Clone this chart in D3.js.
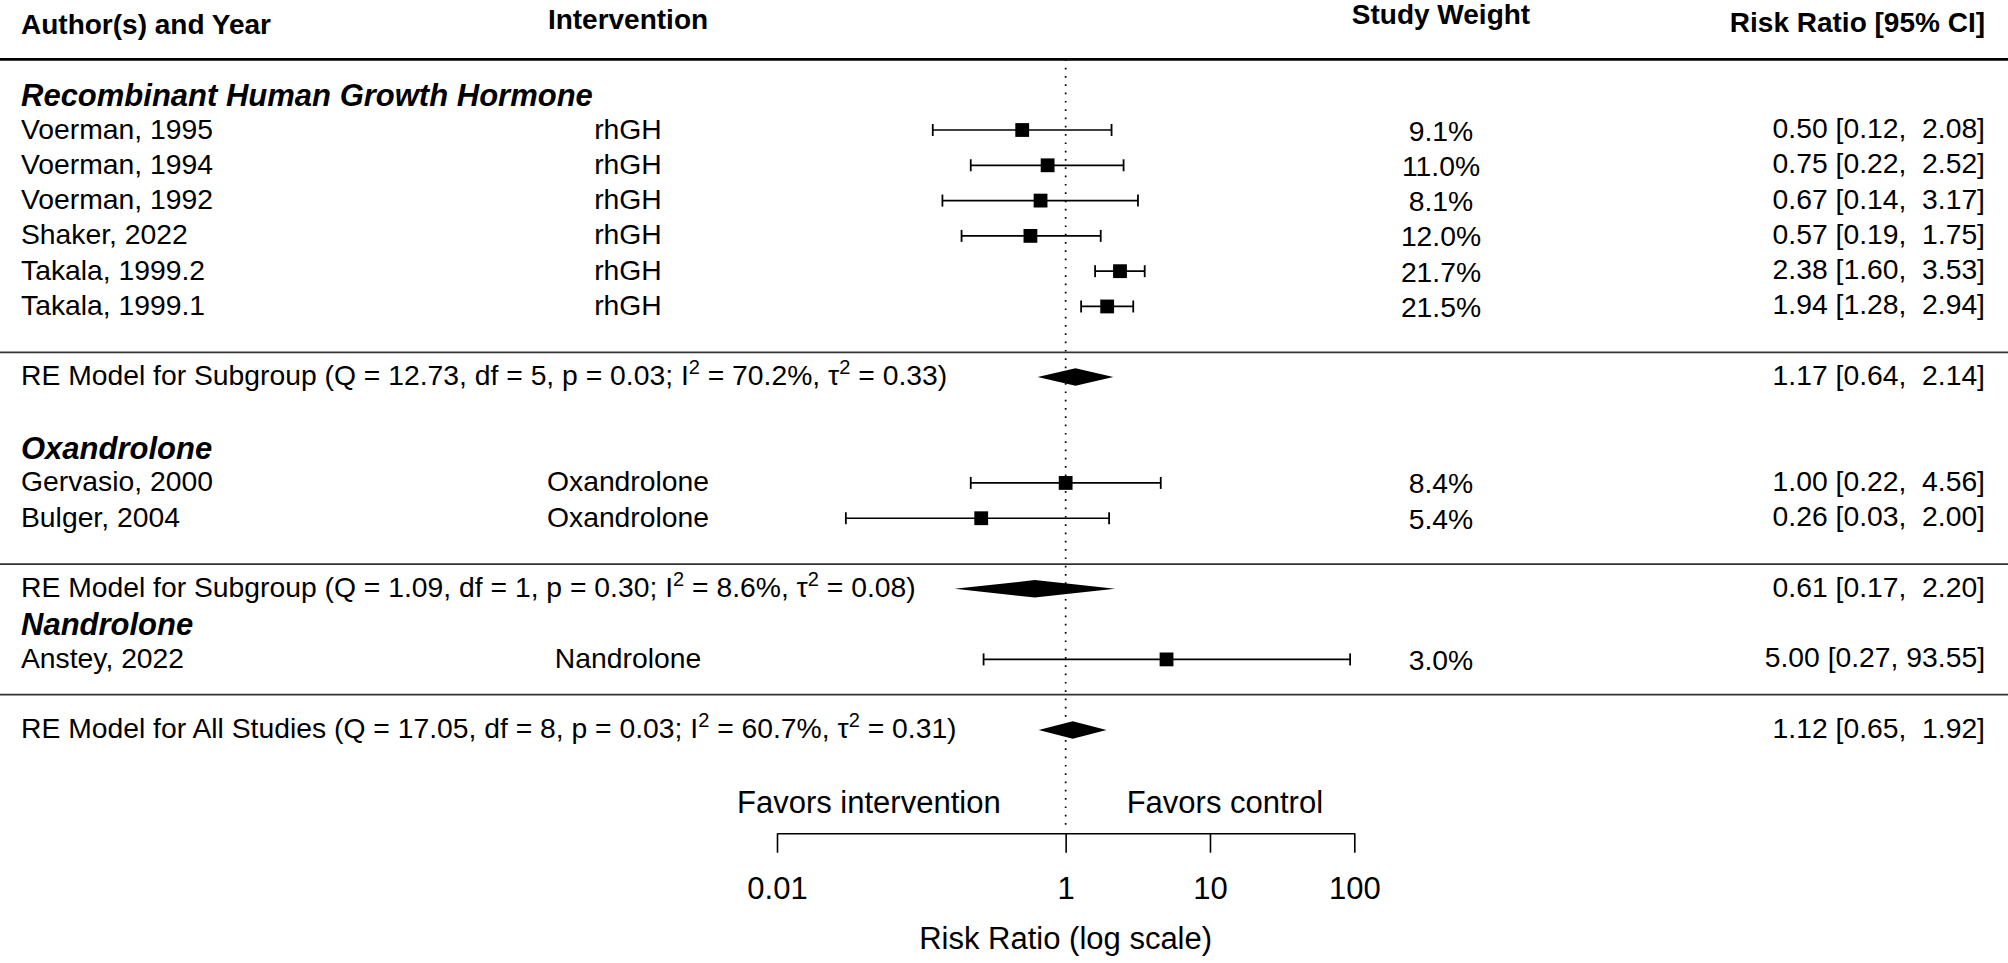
<!DOCTYPE html>
<html>
<head>
<meta charset="utf-8">
<script src="https://cdn.jsdelivr.net/npm/d3@7"></script>
<style>
  body { margin: 0; background: #fff; }
  svg text { font-family: "Liberation Sans", Arial, sans-serif; fill: #000; white-space: pre; }
</style>
</head>
<body>
<div id="chart"></div>
<script>
// study level data
const authors = ['Voerman, 1995', 'Voerman, 1994', 'Voerman, 1992', 'Shaker, 2022', 'Takala, 1999.2',
  'Takala, 1999.1', 'Gervasio, 2000', 'Bulger, 2004', 'Anstey, 2022'];
const interventions = ['rhGH', 'rhGH', 'rhGH', 'rhGH', 'rhGH', 'rhGH', 'Oxandrolone', 'Oxandrolone', 'Nandrolone'];
const weights = [9.1, 11.0, 8.1, 12.0, 21.7, 21.5, 8.4, 5.4, 3.0];
const riskRatio = [0.50, 0.75, 0.67, 0.57, 2.38, 1.94, 1.00, 0.26, 5.00];
const ciLower = [0.12, 0.22, 0.14, 0.19, 1.60, 1.28, 0.22, 0.03, 0.27];
const ciUpper = [2.08, 2.52, 3.17, 1.75, 3.53, 2.94, 4.56, 2.00, 93.55];
const studyGroup = [0, 0, 0, 0, 0, 0, 1, 1, 2];

// subgroup models
const groupNames = ['Recombinant Human Growth Hormone', 'Oxandrolone', 'Nandrolone'];
const groupQ = [12.73, 1.09, null];
const groupDf = [5, 1, null];
const groupP = ['0.03', '0.30', null];
const groupI2 = ['70.2', '8.6', null];
const groupTau2 = ['0.33', '0.08', null];
const groupEst = [1.17, 0.61, null];
const groupLower = [0.64, 0.17, null];
const groupUpper = [2.14, 2.20, null];

// overall model
const overall = { Q: '17.05', df: 8, p: '0.03', I2: '60.7', tau2: '0.31', est: 1.12, lo: 0.65, hi: 1.92 };

const xTicks = [0.01, 1, 10, 100];

const W = 2008, H = 963;
const colAuthor = 21, colInterv = 628, colWeight = 1441, colRR = 1985;
const fs = 28.3;

const svg = d3.select('#chart').append('svg')
  .attr('width', W).attr('height', H);

const x = d3.scaleLog().domain([0.01, 100]).range([777, 1354.3]);
const y = d3.scaleLinear().domain([0, 17]).range([130, 730]);

// ---- row layout ----
const gapAfter = [2, 1, 0];
const rows = [];
let k = -1;
groupNames.forEach((name, g) => {
  rows.push({ type: 'heading', k, text: name });
  const idx = studyGroup.map((s, i) => s === g ? i : -1).filter(i => i >= 0);
  idx.forEach(i => { k += 1; rows.push({ type: 'study', k, i }); });
  if (groupQ[g] != null) {
    rows.push({ type: 'line', k: k + 1.3 });
    k += 2;
    rows.push({ type: 'summary', k, g });
    k += gapAfter[g];
  } else {
    rows.push({ type: 'line', k: k + 1 });
    k += 2;
    rows.push({ type: 'overall', k });
  }
});

const fmt = v => v.toFixed(2);
const ciText = (e, lo, hi) => `${fmt(e)} [${fmt(lo)}, ${fmt(hi).padStart(5, ' ')}]`;

// header
const header = svg.append('g').attr('font-weight', 'bold').attr('font-size', 28);
header.append('text').attr('x', colAuthor).attr('y', 34).text('Author(s) and Year');
header.append('text').attr('x', colInterv).attr('y', 28.5).attr('text-anchor', 'middle').text('Intervention');
header.append('text').attr('x', colWeight).attr('y', 23.5).attr('text-anchor', 'middle').text('Study Weight');
header.append('text').attr('x', colRR).attr('y', 32).attr('text-anchor', 'end').text('Risk Ratio [95% CI]');

svg.append('line')
  .attr('x1', 0).attr('x2', W).attr('y1', y(-2)).attr('y2', y(-2))
  .attr('stroke', '#000').attr('stroke-width', 2.6);

// reference line at RR = 1
svg.append('line')
  .attr('x1', x(1)).attr('x2', x(1)).attr('y1', y(-2)).attr('y2', 825)
  .attr('stroke', '#000').attr('stroke-width', 1.7)
  .attr('stroke-dasharray', '1.7,6.6');

// separator lines
svg.selectAll('.sep').data(rows.filter(r => r.type === 'line')).join('line')
  .attr('class', 'sep')
  .attr('x1', 0).attr('x2', W)
  .attr('y1', d => y(d.k)).attr('y2', d => y(d.k))
  .attr('stroke', '#333').attr('stroke-width', 1.7);

const body = svg.append('g').attr('font-size', fs);

// group headings
body.selectAll('.heading').data(rows.filter(r => r.type === 'heading')).join('text')
  .attr('class', 'heading')
  .attr('x', colAuthor).attr('y', d => y(d.k) + 11)
  .attr('font-size', 31)
  .attr('font-weight', 'bold').attr('font-style', 'italic')
  .text(d => d.text);

// studies
const studyRows = rows.filter(r => r.type === 'study');
const sg = body.selectAll('.study').data(studyRows).join('g').attr('class', 'study');

sg.append('text').attr('x', colAuthor).attr('y', d => y(d.k) + 8.5).text(d => authors[d.i]);
sg.append('text').attr('x', colInterv).attr('y', d => y(d.k) + 8.5).attr('text-anchor', 'middle')
  .text(d => interventions[d.i]);
sg.append('text').attr('x', colWeight).attr('y', d => y(d.k) + 10.5).attr('text-anchor', 'middle')
  .text(d => weights[d.i].toFixed(1) + '%');
sg.append('text').attr('x', colRR).attr('y', d => y(d.k) + 8).attr('text-anchor', 'end')
  .text(d => ciText(riskRatio[d.i], ciLower[d.i], ciUpper[d.i]));

// CI whiskers
sg.append('line')
  .attr('x1', d => x(ciLower[d.i])).attr('x2', d => x(ciUpper[d.i]))
  .attr('y1', d => y(d.k)).attr('y2', d => y(d.k))
  .attr('stroke', '#000').attr('stroke-width', 1.7);
['lo', 'hi'].forEach(end => {
  sg.append('line')
    .attr('x1', d => x(end === 'lo' ? ciLower[d.i] : ciUpper[d.i]))
    .attr('x2', d => x(end === 'lo' ? ciLower[d.i] : ciUpper[d.i]))
    .attr('y1', d => y(d.k) - 6).attr('y2', d => y(d.k) + 6)
    .attr('stroke', '#000').attr('stroke-width', 1.8);
});
const sq = 13.8;
sg.append('rect')
  .attr('x', d => x(riskRatio[d.i]) - sq / 2).attr('y', d => y(d.k) - sq / 2)
  .attr('width', sq).attr('height', sq).attr('fill', '#000');

// summary label with superscripts
function modelLabel(sel, prefix, Q, df, p, I2, tau2) {
  sel.append('tspan').text(`${prefix} (Q = ${Q}, df = ${df}, p = ${p}; I`);
  sel.append('tspan').attr('font-size', 20).attr('dy', -11).text('2');
  sel.append('tspan').attr('dy', 11).text(` = ${I2}%, \u03c4`);
  sel.append('tspan').attr('font-size', 20).attr('dy', -11).text('2');
  sel.append('tspan').attr('dy', 11).text(` = ${tau2})`);
}

function diamond(est, lo, hi, yy) {
  const h = 8.7;
  return `M${x(lo)},${yy}L${x(est)},${yy - h}L${x(hi)},${yy}L${x(est)},${yy + h}Z`;
}

rows.filter(r => r.type === 'summary').forEach(r => {
  const g = r.g, yy = y(r.k);
  const t = body.append('text').attr('x', colAuthor).attr('y', yy + 8);
  modelLabel(t, 'RE Model for Subgroup', groupQ[g].toFixed(2), groupDf[g], groupP[g], groupI2[g], groupTau2[g]);
  body.append('path').attr('d', diamond(groupEst[g], groupLower[g], groupUpper[g], yy)).attr('fill', '#000');
  body.append('text').attr('x', colRR).attr('y', yy + 8).attr('text-anchor', 'end')
    .text(ciText(groupEst[g], groupLower[g], groupUpper[g]));
});

rows.filter(r => r.type === 'overall').forEach(r => {
  const yy = y(r.k);
  const t = body.append('text').attr('x', colAuthor).attr('y', yy + 8);
  modelLabel(t, 'RE Model for All Studies', overall.Q, overall.df, overall.p, overall.I2, overall.tau2);
  body.append('path').attr('d', diamond(overall.est, overall.lo, overall.hi, yy)).attr('fill', '#000');
  body.append('text').attr('x', colRR).attr('y', yy + 8).attr('text-anchor', 'end')
    .text(ciText(overall.est, overall.lo, overall.hi));
});

// x axis
const axisY = 833.3;
const axisFs = 31;
const axis = svg.append('g')
  .attr('transform', `translate(0,${axisY})`)
  .call(d3.axisBottom(x).tickValues(xTicks).tickSize(19.4).tickSizeOuter(0).tickFormat(d => String(d)));
axis.select('.domain').attr('stroke', '#000').attr('stroke-width', 1.6);
axis.selectAll('.tick line').attr('stroke', '#000').attr('stroke-width', 1.6);
axis.selectAll('.tick text')
  .attr('y', 65.6).attr('dy', null)
  .attr('font-size', axisFs).attr('font-family', '"Liberation Sans", Arial, sans-serif').attr('fill', '#000');

svg.append('text').attr('x', x(1) - 65).attr('y', 812.5).attr('text-anchor', 'end')
  .attr('font-size', axisFs).text('Favors intervention');
svg.append('text').attr('x', x(1) + 61).attr('y', 812.5)
  .attr('font-size', axisFs).text('Favors control');
svg.append('text').attr('x', x(1)).attr('y', 949).attr('text-anchor', 'middle')
  .attr('font-size', axisFs).text('Risk Ratio (log scale)');
</script>
</body>
</html>
